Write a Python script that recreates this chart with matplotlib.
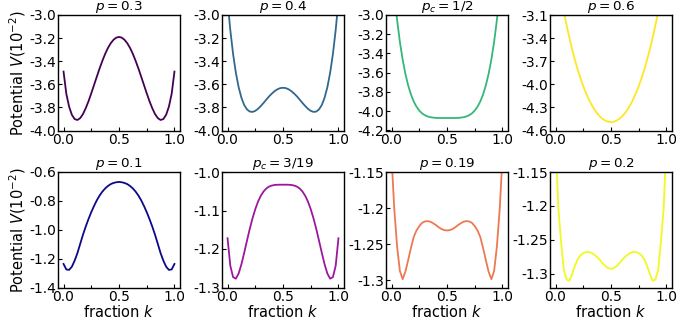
import numpy as np
import matplotlib
matplotlib.use("Agg")
import matplotlib.pyplot as plt
from matplotlib.ticker import FixedLocator

plt.rcParams['font.family'] = ['DejaVu Sans']
plt.rcParams['mathtext.fontset'] = 'dejavusans'
plt.rcParams['axes.unicode_minus'] = False

# ---------------- data ----------------
k = np.linspace(0, 1, 41)  # fraction k sample grid

V_p03 = [-3.490, -3.682, -3.793, -3.864, -3.901, -3.909, -3.893, -3.858, -3.807, -3.747,
         -3.678, -3.606, -3.534, -3.463, -3.397, -3.337, -3.286, -3.245, -3.215, -3.196,
         -3.190,
         -3.196, -3.215, -3.245, -3.286, -3.337, -3.397, -3.463, -3.534, -3.606, -3.678,
         -3.747, -3.807, -3.858, -3.893, -3.909, -3.901, -3.864, -3.793, -3.682, -3.490]

V_p04 = [-2.875, -3.131, -3.338, -3.500, -3.625, -3.716, -3.779, -3.817, -3.836, -3.839,
         -3.830, -3.812, -3.788, -3.761, -3.732, -3.704, -3.680, -3.659, -3.643, -3.633,
         -3.630,
         -3.633, -3.643, -3.659, -3.680, -3.704, -3.732, -3.761, -3.788, -3.812, -3.830,
         -3.839, -3.836, -3.817, -3.779, -3.716, -3.625, -3.500, -3.338, -3.131, -2.875]

V_pc12 = [-2.450, -2.776, -3.051, -3.278, -3.463, -3.613, -3.732, -3.826, -3.899, -3.953,
          -3.993, -4.022, -4.041, -4.054, -4.062, -4.066, -4.069, -4.070, -4.070, -4.070,
          -4.070,
          -4.070, -4.070, -4.070, -4.069, -4.066, -4.062, -4.054, -4.041, -4.022, -3.993,
          -3.953, -3.899, -3.826, -3.732, -3.613, -3.463, -3.278, -3.051, -2.776, -2.450]

V_p06 = [-2.440, -2.662, -2.868, -3.059, -3.236, -3.398, -3.548, -3.685, -3.810, -3.923,
         -4.024, -4.115, -4.196, -4.266, -4.326, -4.376, -4.418, -4.450, -4.472, -4.486,
         -4.490,
         -4.486, -4.472, -4.450, -4.418, -4.376, -4.326, -4.266, -4.196, -4.115, -4.024,
         -3.923, -3.810, -3.685, -3.548, -3.398, -3.236, -3.059, -2.868, -2.662, -2.440]

V_p01 = [-1.237, -1.275, -1.278, -1.256, -1.214, -1.162, -1.098, -1.035, -0.978, -0.926,
         -0.878, -0.835, -0.796, -0.763, -0.736, -0.714, -0.697, -0.684, -0.676, -0.671,
         -0.669,
         -0.671, -0.676, -0.684, -0.697, -0.714, -0.736, -0.763, -0.796, -0.835, -0.878,
         -0.926, -0.978, -1.035, -1.098, -1.162, -1.214, -1.256, -1.278, -1.275, -1.237]

V_pc319 = [-1.172, -1.2436, -1.2730, -1.2771, -1.2637, -1.2397, -1.2100, -1.1787, -1.1481, -1.1204,
           -1.0965, -1.0769, -1.0617, -1.0505, -1.0428, -1.0378, -1.0351, -1.0337, -1.0331, -1.0330,
           -1.0330,
           -1.0330, -1.0331, -1.0337, -1.0351, -1.0378, -1.0428, -1.0505, -1.0617, -1.0769, -1.0965,
           -1.1204, -1.1481, -1.1787, -1.2100, -1.2397, -1.2637, -1.2771, -1.2730, -1.2436, -1.172]

V_p019 = [-1.130, -1.202, -1.253, -1.287, -1.2985, -1.288, -1.272, -1.255, -1.240, -1.231,
          -1.225, -1.2205, -1.2185, -1.2180, -1.2188, -1.2210, -1.2235, -1.2265, -1.2290, -1.2305,
          -1.2310,
          -1.2305, -1.2290, -1.2265, -1.2235, -1.2210, -1.2188, -1.2180, -1.2185, -1.2205, -1.225,
          -1.231, -1.240, -1.255, -1.272, -1.288, -1.2985, -1.287, -1.253, -1.202, -1.130]

V_p02 = [-1.100, -1.203, -1.253, -1.2945, -1.3085, -1.3100, -1.3000, -1.2880, -1.2785, -1.2725,
         -1.2693, -1.2680, -1.2678, -1.2690, -1.2718, -1.2750, -1.2795, -1.2845, -1.2885, -1.2915,
         -1.2925,
         -1.2915, -1.2885, -1.2845, -1.2795, -1.2750, -1.2718, -1.2690, -1.2678, -1.2680, -1.2693,
         -1.2725, -1.2785, -1.2880, -1.3000, -1.3100, -1.3085, -1.2945, -1.253, -1.203, -1.100]

titles = [r'$p = 0.3$', r'$p = 0.4$', r'$p_c = 1/2$', r'$p = 0.6$',
          r'$p = 0.1$', r'$p_c = 3/19$', r'$p = 0.19$', r'$p = 0.2$']
series = [V_p03, V_p04, V_pc12, V_p06, V_p01, V_pc319, V_p019, V_p02]
colors = ['#440154', '#31688e', '#35b779', '#fde725',
          '#0d0887', '#9c179e', '#ed7953', '#f0f921']

yticks = [[-4.0, -3.8, -3.6, -3.4, -3.2, -3.0],
          [-4.0, -3.8, -3.6, -3.4, -3.2, -3.0],
          [-4.2, -4.0, -3.8, -3.6, -3.4, -3.2, -3.0],
          [-4.6, -4.3, -4.0, -3.7, -3.4, -3.1],
          [-1.4, -1.2, -1.0, -0.8, -0.6],
          [-1.3, -1.2, -1.1, -1.0],
          [-1.3, -1.25, -1.2, -1.15],
          [-1.3, -1.25, -1.2, -1.15]]
ytick_labels = [['-4.0', '-3.8', '-3.6', '-3.4', '-3.2', '-3.0'],
                ['-4.0', '-3.8', '-3.6', '-3.4', '-3.2', '-3.0'],
                ['-4.2', '-4.0', '-3.8', '-3.6', '-3.4', '-3.2', '-3.0'],
                ['-4.6', '-4.3', '-4.0', '-3.7', '-3.4', '-3.1'],
                ['-1.4', '-1.2', '-1.0', '-0.8', '-0.6'],
                ['-1.3', '-1.2', '-1.1', '-1.0'],
                ['-1.3', '-1.25', '-1.2', '-1.15'],
                ['-1.3', '-1.25', '-1.2', '-1.15']]
ylims = [(-4.0, -3.0), (-4.0, -3.0), (-4.2, -3.0), (-4.6, -3.1),
         (-1.4, -0.6), (-1.3, -1.0), (-1.31, -1.15), (-1.32, -1.15)]
xticks = [0.0, 0.5, 1.0]
xtick_labels = ['0.0', '0.5', '1.0']
xminor = [0.25, 0.75]

# ---------------- layout ----------------
W, H = 699, 325
fig = plt.figure(figsize=(W / 100, H / 100), dpi=100)
col_left_px = [58, 222, 386, 550]
row_top_px = [15, 172]
ax_w_px, ax_h_px = 122, 115.5

for i in range(8):
    r, c = divmod(i, 4)
    left = col_left_px[c] / W
    bottom = 1 - (row_top_px[r] + ax_h_px) / H
    ax = fig.add_axes([left, bottom, ax_w_px / W, ax_h_px / H])
    ax.plot(k, series[i], color=colors[i], lw=1.3)
    ax.set_xlim(-0.05, 1.05)
    ax.set_ylim(*ylims[i])
    ax.set_xticks(xticks)
    ax.set_xticklabels(xtick_labels)
    ax.xaxis.set_minor_locator(FixedLocator(xminor))
    ax.set_yticks(yticks[i])
    ax.set_yticklabels(ytick_labels[i])
    ax.tick_params(axis='both', which='major', direction='in', length=3, width=0.8,
                   labelsize=10, pad=1.5)
    ax.tick_params(axis='x', which='minor', direction='in', length=2, width=0.8)
    for s in ax.spines.values():
        s.set_linewidth(1.0)
    ax.set_title(titles[i], fontsize=9.7, pad=1.4)
    if c == 0:
        ax.set_ylabel(r'Potential $V(10^{-2})$', fontsize=10.5, labelpad=1)
    if r == 1:
        ax.set_xlabel(r'fraction $k$', fontsize=10.5, labelpad=0)

fig.savefig('out.png', dpi=100)
